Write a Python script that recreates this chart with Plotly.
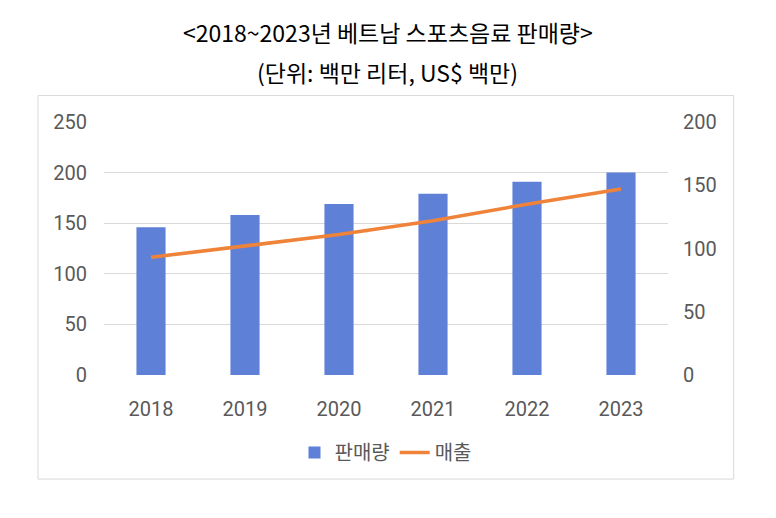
import plotly.graph_objects as go

years = ["2018", "2019", "2020", "2021", "2022", "2023"]
volume = [146, 158, 169, 179, 191, 200]      # 판매량 (백만 리터) - left axis
sales = [93, 102, 111, 122, 135, 147]        # 매출 (US$ 백만) - right axis

title_line1 = "<2018~2023년 베트남 스포츠음료 판매량>"
title_line2 = "(단위: 백만 리터, US$ 백만)"

OFF = 8  # page body margin offset
W, H = 776 - OFF, 518 - OFF
L = 104 - OFF
T = 122 - OFF
R = W - (668.3 - OFF)
B = H - (375.3 - OFF)
pw, ph = W - L - R, H - T - B

def px(x):
    return (x - OFF - L) / pw

def py(y):
    return (H - B - (y - OFF)) / ph

tick_font = dict(family="Roboto, 'Noto Sans CJK KR', sans-serif", size=20, color="#595959")

fig = go.Figure()
fig.add_trace(go.Bar(
    x=years, y=volume, name="판매량",
    marker=dict(color="#5F80D7", line=dict(width=0)),
    yaxis="y",
))
fig.add_trace(go.Scatter(
    x=years, y=sales, name="매출", mode="lines",
    line=dict(color="#F0833A", width=3.5),
    yaxis="y2",
))

fig.update_layout(
    width=W, height=H,
    margin=dict(l=L, r=R, t=T, b=B),
    paper_bgcolor="white", plot_bgcolor="white",
    bargap=0.69,
    showlegend=True,
    legend=dict(
        orientation="h", x=0.5, xanchor="center", y=py(453), yanchor="middle",
        font=dict(family="'Noto Sans CJK KR', sans-serif", size=20, color="#595959"),
        itemwidth=30, tracegroupgap=0, bgcolor="rgba(0,0,0,0)",
    ),
    xaxis=dict(
        type="category", showgrid=False, showline=False, zeroline=False,
        tickfont=tick_font, ticklabelstandoff=20, ticks="",
    ),
    yaxis=dict(
        range=[0, 250], dtick=50, showgrid=True, gridcolor="#D9D9D9", gridwidth=1,
        zeroline=False, showline=False, tickfont=tick_font, ticklabelstandoff=16, ticks="",
    ),
    yaxis2=dict(
        range=[0, 200], dtick=50, overlaying="y", side="right", showgrid=False,
        zeroline=False, showline=False, tickfont=tick_font, ticklabelstandoff=14, ticks="",
    ),
    shapes=[dict(
        type="rect", xref="paper", yref="paper",
        x0=px(38), x1=px(734), y0=py(479.5), y1=py(95.5),
        line=dict(color="#D9D9D9", width=1), fillcolor="rgba(0,0,0,0)", layer="below",
    )],
    annotations=[
        dict(text=title_line1, xref="paper", yref="paper", x=px(388), y=py(32),
             xanchor="center", yanchor="middle", showarrow=False,
             font=dict(family="'Noto Sans CJK KR', sans-serif", size=23, color="#000000")),
        dict(text=title_line2, xref="paper", yref="paper", x=px(388), y=py(72),
             xanchor="center", yanchor="middle", showarrow=False,
             font=dict(family="'Noto Sans CJK KR', sans-serif", size=23, color="#000000")),
    ],
)

fig.write_html("out.html")
